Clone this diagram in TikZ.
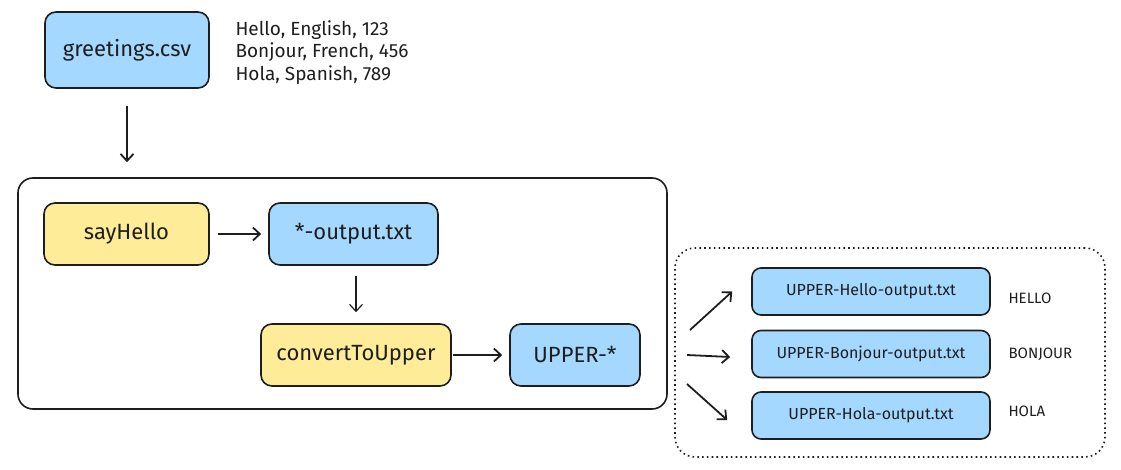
\documentclass[tikz,border=0pt]{standalone}
\usepackage{fontspec}
\setmainfont{Fira Sans}
\usetikzlibrary{positioning,calc,arrows.meta}
\definecolor{fileblue}{HTML}{A5D8FF}
\definecolor{procyellow}{HTML}{FFEC99}
\definecolor{inkdark}{HTML}{1E1E1E}

\begin{document}
\begin{tikzpicture}[x=1pt, y=-1pt,
  filebox/.style={draw=inkdark, fill=fileblue, line width=1.6pt, rounded corners=11pt, align=center, text=inkdark, font=\fontsize{22}{25}\selectfont},
  procbox/.style={draw=inkdark, fill=procyellow, line width=1.6pt, rounded corners=11pt, align=center, text=inkdark, font=\fontsize{22}{25}\selectfont},
  resultbox/.style={filebox, rounded corners=9pt, minimum width=238pt, minimum height=47pt, font=\fontsize{16}{18}\selectfont},
  caplabel/.style={anchor=west, text=inkdark, font=\fontsize{15}{17}\selectfont},
  arrow/.style={-{Straight Barb[length=7pt, width=13pt]}, draw=inkdark, line width=1.8pt}]
\useasboundingbox (0,0) rectangle (1121,470);
% input file
\node[filebox, minimum width=164pt, minimum height=76pt] (csv) at (127,50) {greetings.csv};
\node[anchor=north west, align=left, text=inkdark, font=\fontsize{19}{22.5}\selectfont] (rows) at (232,17) {Hello, English, 123\\Bonjour, French, 456\\Hola, Spanish, 789};
% workflow
\node[draw=inkdark, line width=1.6pt, rounded corners=15pt, minimum width=649pt, minimum height=231pt] (flow) at (342.5,293.5) {};
\node[procbox, minimum width=165pt, minimum height=62pt] (hello) at (126.5,234) {sayHello};
\node[filebox, minimum width=169pt, minimum height=62pt] (output) at (353.5,234) {*-output.txt};
\node[procbox, minimum width=190pt, minimum height=62pt] (convert) at (356,355) {convertToUpper};
\node[filebox, minimum width=130pt, minimum height=62pt] (upper) at (575,355) {UPPER-*};
\draw[arrow, shorten <=17pt, shorten >=15pt] (csv.south) -- (csv.south |- flow.north);
\draw[arrow, shorten <=8pt, shorten >=7pt] (hello) -- (output);
\draw[arrow, line width=1.2pt, shorten <=10pt, shorten >=11pt] (output.south -| convert.north) -- (convert.north);
\draw[arrow, shorten <=1pt, shorten >=7pt] (convert.east) -- (upper.west);
% results
\node[draw=inkdark, line width=1.6pt, dash pattern=on 1.6pt off 3.2pt, rounded corners=20pt, minimum width=430pt, minimum height=209pt] (results) at (890,352.5) {};
\node[resultbox] (rhello) at (871,291.5) {UPPER-Hello-output.txt};
\node[resultbox] (rbonjour) at (871,354) {UPPER-Bonjour-output.txt};
\node[resultbox] (rhola) at (871,415.5) {UPPER-Hola-output.txt};
\node[caplabel] (lhello) at (1005,298) {HELLO};
\node[caplabel] (lbonjour) at (1005,354) {BONJOUR};
\node[caplabel] (lhola) at (1005,411) {HOLA};
\coordinate (fanhello) at (690,330);
\coordinate (fanbonjour) at (687,355);
\coordinate (fanhola) at (687,384);
\draw[arrow] (fanhello) -- ([xshift=-19pt]rhello.west);
\draw[arrow] (fanbonjour) -- ([xshift=-21pt, yshift=-3pt]rbonjour.west);
\draw[arrow] (fanhola) -- ([xshift=-24pt, yshift=-4.5pt]rhola.west);
\end{tikzpicture}
\end{document}
